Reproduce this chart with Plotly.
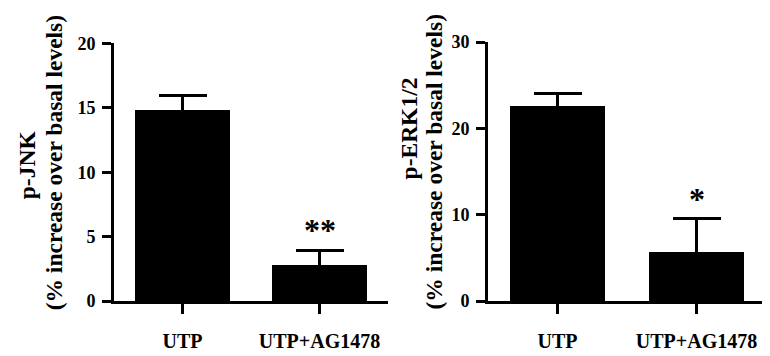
import plotly.graph_objects as go

categories = ["UTP", "UTP+AG1478"]
jnk_values = [14.8, 2.8]
jnk_err = [1.2, 1.1]
erk_values = [22.6, 5.7]
erk_err = [1.4, 3.9]
jnk_sig = ["", "**"]
erk_sig = ["", "*"]
jnk_ticks = [0, 5, 10, 15, 20]
erk_ticks = [0, 10, 20, 30]

W, H = 770, 356
FONT = "Liberation Serif"


def bfont(size):
    return dict(family=FONT, size=size, color="black", weight="bold")


fig = go.Figure()
fig.add_trace(go.Bar(
    x=[0, 1], y=jnk_values, width=0.69, marker=dict(color="black", line=dict(width=0)),
    error_y=dict(type="data", symmetric=True, array=jnk_err,
                 color="black", thickness=3, width=24),
    xaxis="x", yaxis="y", showlegend=False))
fig.add_trace(go.Bar(
    x=[0, 1], y=erk_values, width=0.69, marker=dict(color="black", line=dict(width=0)),
    error_y=dict(type="data", symmetric=True, array=erk_err,
                 color="black", thickness=3, width=24),
    xaxis="x2", yaxis="y2", showlegend=False))

line_common = dict(showgrid=False, zeroline=False, showline=True, linecolor="black",
                   linewidth=3, ticks="outside", tickcolor="black", tickwidth=3)

fig.update_layout(
    width=W, height=H, margin=dict(l=0, r=0, t=0, b=0),
    plot_bgcolor="white", paper_bgcolor="white", bargap=0,
    xaxis=dict(domain=[106/W, 380/W], range=[-0.5, 1.5], tickvals=[0, 1], ticktext=categories,
               ticklen=10, ticklabelstandoff=10, anchor="y", tickfont=bfont(20), **line_common),
    yaxis=dict(domain=[1-300/H, 1-27/H], range=[0, 20], tickvals=jnk_ticks, ticklen=9,
               ticklabelstandoff=3, anchor="x", tickfont=bfont(18), **line_common),
    xaxis2=dict(domain=[480/W, 758/W], range=[-0.5, 1.5], tickvals=[0, 1], ticktext=categories,
                ticklen=10, ticklabelstandoff=10, anchor="y2", tickfont=bfont(20), **line_common),
    yaxis2=dict(domain=[1-300/H, 1-25.5/H], range=[0, 30], tickvals=erk_ticks, ticklen=9,
                ticklabelstandoff=3, anchor="x2", tickfont=bfont(18), **line_common),
)

# significance markers
for i in range(2):
    if jnk_sig[i]:
        fig.add_annotation(x=i, y=jnk_values[i] + jnk_err[i], xref="x", yref="y",
                           text=jnk_sig[i], showarrow=False, yanchor="middle", yshift=21,
                           font=bfont(32))
    if erk_sig[i]:
        fig.add_annotation(x=i, y=erk_values[i] + erk_err[i], xref="x2", yref="y2",
                           text=erk_sig[i], showarrow=False, yanchor="middle", yshift=19,
                           font=bfont(32))

# y-axis titles (two rotated lines each)
titles = [
    ("p-JNK", 19, 156),
    ("(% increase over basal levels)", 46, 154),
    ("p-ERK1/2", 401, 117),
    ("(% increase over basal levels)", 426, 152),
]
for txt, px, py in titles:
    fig.add_annotation(x=px/W, y=1-py/H, xref="paper", yref="paper", textangle=-90,
                       xanchor="center", yanchor="middle",
                       text=txt, showarrow=False, font=bfont(23.5))

fig.write_html("out.html")
